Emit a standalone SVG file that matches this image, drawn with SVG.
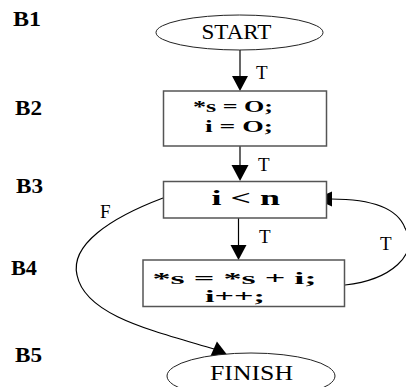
<svg xmlns="http://www.w3.org/2000/svg" width="406" height="387" viewBox="0 0 406 387">
  <style>
    .blk { font-family: "Liberation Serif", "Times New Roman", serif; font-weight: bold; font-size: 20px; fill: #000; }
    .code { font-family: "Liberation Serif", "Times New Roman", serif; font-weight: bold; font-size: 21px; fill: #000; }
    .code2 { font-family: "Liberation Serif", "Times New Roman", serif; font-weight: bold; font-size: 17px; fill: #000; }
    .term { font-family: "Liberation Serif", "Times New Roman", serif; font-size: 21px; fill: #000; }
    .lbl { font-family: "Liberation Serif", "Times New Roman", serif; font-size: 19px; fill: #000; }
    .box { fill: #fff; stroke: #555; stroke-width: 1.5; }
    .oval { fill: #fff; stroke: #222; stroke-width: 1; }
    .edge { fill: none; stroke: #000; stroke-width: 1.2; }
    .head { fill: #000; }
  </style>

  <!-- block labels -->
  <g id="block-labels">
    <text class="blk" x="13" y="26" textLength="28" lengthAdjust="spacingAndGlyphs">B1</text>
    <text class="blk" x="15" y="115" textLength="27" lengthAdjust="spacingAndGlyphs">B2</text>
    <text class="blk" x="16" y="193" textLength="27" lengthAdjust="spacingAndGlyphs">B3</text>
    <text class="blk" x="11" y="275" textLength="26" lengthAdjust="spacingAndGlyphs">B4</text>
    <text class="blk" x="15" y="362" textLength="27" lengthAdjust="spacingAndGlyphs">B5</text>
  </g>

  <!-- connectors -->
  <g id="connectors">
    <line class="edge" x1="240" y1="50" x2="240" y2="77"/>
    <polygon class="head" points="232,76 248,76 240,91"/>
    <text class="lbl" x="256" y="79">T</text>

    <line class="edge" x1="240" y1="146" x2="240" y2="166"/>
    <polygon class="head" points="231.5,165 248.5,165 240,181"/>
    <text class="lbl" x="258" y="171">T</text>

    <line class="edge" x1="238.5" y1="218" x2="238.5" y2="246"/>
    <polygon class="head" points="230.5,245 246.5,245 238.5,260"/>
    <text class="lbl" x="259" y="243">T</text>

    <!-- loop back from B4 to B3 -->
    <path class="edge" d="M345,285 C390,280 420,255 405,228 C397,207 370,199 331,199"/>
    <polygon class="head" points="332,191.5 332,206.5 315,199"/>
    <text class="lbl" x="380" y="250">T</text>

    <!-- exit from B3 to B5 -->
    <path class="edge" d="M163,198 C110,218 70,245 77,275 C85,315 150,330 214,349"/>
    <polygon class="head" points="210.4,356.2 216.9,341.6 227.3,355"/>
    <text class="lbl" x="100" y="218">F</text>
  </g>

  <g id="B1">
    <ellipse class="oval" cx="239.5" cy="32.5" rx="83.5" ry="17.5"/>
    <text class="term" x="201.5" y="38.5" textLength="70" lengthAdjust="spacingAndGlyphs">START</text>
  </g>

  <g id="B2">
    <rect class="box" x="163.5" y="91" width="163" height="55"/>
    <text class="code2" x="193" y="112" textLength="80" lengthAdjust="spacingAndGlyphs">*s = O;</text>
    <text class="code2" x="205" y="132" textLength="68" lengthAdjust="spacingAndGlyphs">i = O;</text>
  </g>

  <g id="B3">
    <rect class="box" x="163.5" y="181.5" width="163" height="36.5"/>
    <text class="code" x="211.5" y="204.5" textLength="68.5" lengthAdjust="spacingAndGlyphs">i &lt; n</text>
  </g>

  <g id="B4">
    <rect class="box" x="143" y="260" width="201.5" height="46.5"/>
    <text class="code2" x="152.5" y="283.5" textLength="164" lengthAdjust="spacingAndGlyphs">*s = *s + i;</text>
    <text class="code2" x="205" y="302" textLength="60" lengthAdjust="spacingAndGlyphs">i++;</text>
  </g>

  <g id="B5">
    <ellipse class="oval" cx="251" cy="376" rx="84" ry="23"/>
    <text class="term" x="210" y="379.5" textLength="83" lengthAdjust="spacingAndGlyphs">FINISH</text>
  </g>
</svg>
